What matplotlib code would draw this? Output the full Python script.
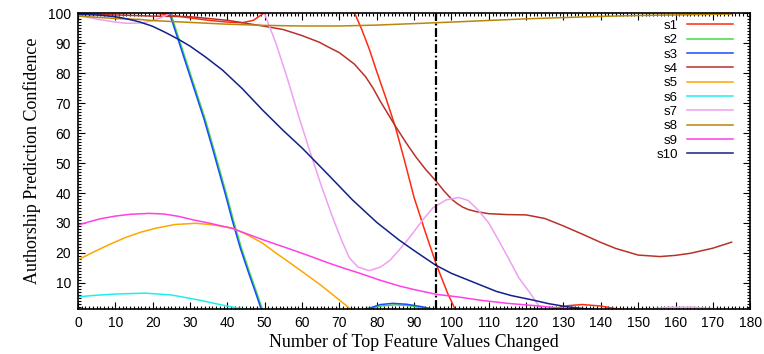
import matplotlib
matplotlib.use('Agg')
import matplotlib.pyplot as plt
from matplotlib.ticker import MultipleLocator

# confidence curves per sample, (x, y) read at the listed points
s1_x = [0, 5, 10, 15, 20, 25, 30, 35, 40, 44, 47, 50, 55, 60, 65, 70, 74, 76, 78, 80, 82.5, 85, 87.5, 90, 93, 96, 99, 101, 104, 110, 120, 127, 131, 135, 140, 145, 150]
s1_y = [99.8, 100.2, 100.5, 100.5, 100.1, 99.3, 98.4, 97.6, 97.0, 96.8, 97.6, 100.2, 103, 105, 105, 103, 100.2, 94.5, 88, 80.5, 71.5, 62, 50.5, 38.5, 27, 16, 6.5, 1.2, -2, -3, -1, 1.3, 2.4, 2.8, 2.3, 1.2, 0]

s2_x = [0, 10, 20, 24.8, 27.3, 30.3, 34.1, 36.3, 39.9, 41.7, 43.8, 46.1, 47.8, 49.3, 51.3, 60, 74, 78, 81, 85, 89, 93, 96]
s2_y = [100.5, 100.5, 100.3, 100, 90.5, 79, 64.5, 55, 39, 30.5, 21.5, 13, 7, 1.5, -2, -3, -1, 1.4, 2.3, 2.7, 2.4, 1.4, 0]

s3_x = [0, 10, 20, 24.5, 27, 30, 33.8, 36, 39.6, 41.4, 43.5, 45.8, 47.5, 49, 51, 60, 74, 77, 78, 81, 84.3, 88, 92, 95, 98]
s3_y = [100.5, 100.5, 100.3, 100, 90.5, 79, 64.5, 55, 39, 30.5, 21.5, 13, 7, 1.5, -2, -3, -1, 1.4, 1.6, 2.8, 3.2, 2.9, 2.1, 1.3, 0]

s4_x = [0, 10, 20, 30, 40, 50, 55, 60, 64.6, 67, 70, 74, 77, 79, 81, 83, 85, 88, 90.5, 93, 96, 98, 100, 101.5, 103, 104.5, 106.6, 110, 115, 120, 125, 130, 135, 140, 144, 150, 155.8, 160, 164, 170, 175]
s4_y = [99.7, 99.4, 99, 98.8, 97.6, 95.6, 94.5, 92.5, 90.3, 88.7, 86.8, 83, 78.8, 75, 70.5, 66.4, 62.3, 56.5, 52, 48, 43.8, 40.7, 38, 36.5, 35.3, 34.5, 33.8, 33.1, 32.8, 32.7, 31.5, 29, 26.3, 23.5, 21.5, 19.3, 18.8, 19.2, 19.9, 21.6, 23.6]

s5_x = [0, 4, 8, 12.8, 17, 21, 26, 31.6, 36, 41.3, 45, 49.4, 53, 57, 61.9, 65, 69, 72.2, 74]
s5_y = [17.7, 20.2, 22.6, 25.2, 27, 28.3, 29.5, 29.9, 29.4, 28.3, 26.3, 23.3, 20, 16.5, 12.1, 9.3, 5.3, 2.1, 0]

s6_x = [0, 5, 10, 18, 25, 32.4, 38, 43, 46]
s6_y = [5.4, 5.9, 6.3, 6.6, 6.0, 4.3, 2.8, 1.6, 1.0]

s7_x = [0, 5, 10, 13, 17, 20, 22.5, 24.8, 27, 35, 45, 49.9, 53, 56, 59, 62, 65, 68, 70.5, 72.7, 75, 78, 81, 83.5, 86, 89, 92.3, 95, 98.6, 102, 104.5, 107, 110, 112.5, 115.5, 118, 121, 123.6, 125, 130, 140, 150, 153, 158, 165, 170, 173]
s7_y = [99.3, 98, 97, 96.6, 96.7, 97.5, 98.6, 100, 101.5, 103, 102.5, 100, 90, 78.5, 66, 54.3, 43, 32.5, 24.5, 18.3, 15.3, 14.1, 15.3, 17.5, 21, 25.5, 31, 35, 37.7, 38.5, 37.5, 34.5, 30, 24.5, 17.7, 11.8, 6.7, 2, 0, -1.5, -1, 0.5, 1.3, 1.9, 1.9, 1.4, 0]

s8_x = [0, 10, 16.4, 20, 30, 40, 50, 60, 70, 80, 90, 100, 112.9, 120, 130, 140, 150, 160, 175]
s8_y = [99, 98.2, 97.9, 97.5, 96.9, 96.3, 95.9, 95.7, 95.7, 96, 96.5, 97, 97.7, 98.1, 98.5, 98.9, 99.2, 99.4, 99.7]

s9_x = [0, 3, 6, 10, 14, 19, 23, 27, 31, 35, 41.3, 45, 50, 57.5, 62, 67, 71, 75.3, 80.7, 86, 90, 96, 102, 108, 115, 123.6, 130, 135]
s9_y = [29.3, 30.4, 31.4, 32.3, 32.9, 33.2, 33, 32.2, 31, 30, 28.2, 26.5, 24.2, 21, 19, 16.7, 15, 13.3, 11, 9, 7.8, 6.2, 5.3, 4.2, 3.2, 2.3, 1.5, 1.0]

s10_x = [0, 5, 10, 13, 16.4, 20, 23.5, 27, 30, 34, 38.7, 44, 49.4, 55, 60.1, 66, 73.5, 80, 86, 90, 95.7, 100, 106.6, 112, 116, 121.8, 126, 130.7, 135, 140]
s10_y = [99.6, 99.4, 98.8, 98.1, 97.1, 95.6, 93.5, 91.2, 89, 85.5, 81, 74.8, 67.7, 60.8, 54.9, 47.4, 37.7, 30.2, 24.3, 20.8, 16, 13.2, 9.9, 7.2, 5.8, 4.3, 3.1, 2.1, 1.5, 1.0]

names = ['s1', 's2', 's3', 's4', 's5', 's6', 's7', 's8', 's9', 's10']
colors = ['#ff2a10', '#40dd40', '#1a4cff', '#b8322a', '#ffa500',
          '#20eeee', '#f0a0f0', '#b8860b', '#ff40e6', '#12208a']
cutoff = 96  # number of changed features marked by the dash-dot line

series = [(s1_x, s1_y), (s2_x, s2_y), (s3_x, s3_y), (s4_x, s4_y), (s5_x, s5_y),
          (s6_x, s6_y), (s7_x, s7_y), (s8_x, s8_y), (s9_x, s9_y), (s10_x, s10_y)]

fig = plt.figure(figsize=(7.64, 3.54), dpi=100)
ax = fig.add_axes([0.102, 0.127, 0.880, 0.836])

for (x, y), name, c in zip(series, names, colors):
    ax.plot(x, y, color=c, lw=1.1, label=name)

ax.axvline(cutoff, color='black', lw=1.6, linestyle=(0, (4, 1.2, 0.8, 1.2)))

ax.set_xlim(0, 180)
ax.set_ylim(1.3, 100)
ax.set_xticks(range(0, 181, 10))
ax.set_yticks(range(10, 101, 10))
ax.xaxis.set_minor_locator(MultipleLocator(1))
ax.yaxis.set_minor_locator(MultipleLocator(1))
ax.tick_params(which='both', direction='in', top=True, right=True, width=0.8)
ax.tick_params(which='major', length=5, labelsize=10, pad=5)
ax.tick_params(which='minor', length=2.5)
for lab in ax.get_xticklabels() + ax.get_yticklabels():
    lab.set_family('Liberation Sans')
for sp in ax.spines.values():
    sp.set_linewidth(1.2)

ax.set_xlabel('Number of Top Feature Values Changed', family='Liberation Serif', fontsize=13, labelpad=2)
ax.set_ylabel('Authorship Prediction Confidence', family='Liberation Serif', fontsize=13, labelpad=5)

leg = ax.legend(loc='upper right', bbox_to_anchor=(0.975, 0.978), frameon=False,
                markerfirst=False, handlelength=3.5, handletextpad=0.7,
                labelspacing=0.16, borderpad=0, borderaxespad=0,
                prop={'family': 'Liberation Sans', 'size': 9.5})

fig.savefig('out.png', dpi=100)
